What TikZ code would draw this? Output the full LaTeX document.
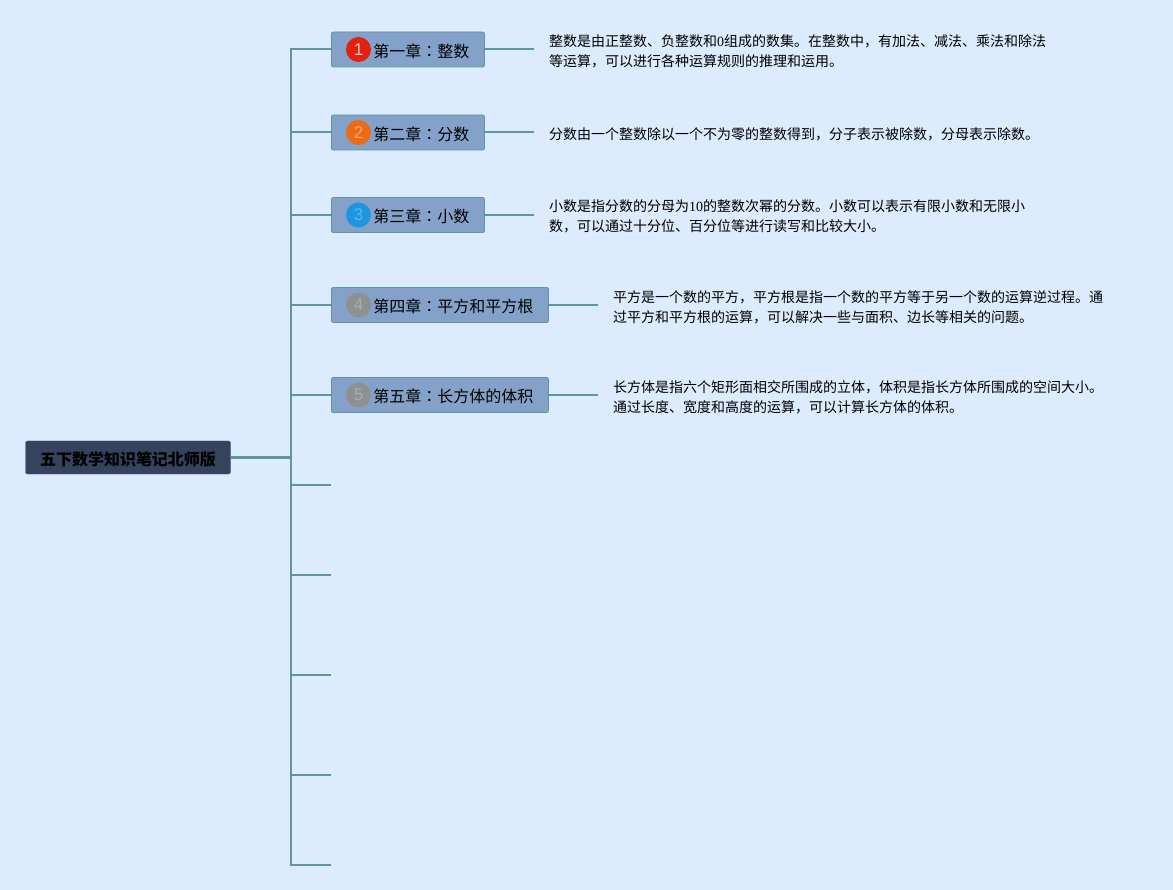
\documentclass[tikz,border=0pt]{standalone}
\usepackage{fontspec}
\setmainfont{Liberation Serif}
\setsansfont{Liberation Sans}
\newfontfamily\cjk{Noto Sans CJK SC}
\newfontfamily\cjktc{Noto Sans CJK TC}
\newcommand{\midcolon}{{\cjktc ：}}
\usetikzlibrary{positioning}
\definecolor{paper}{HTML}{DCEBFD}
\definecolor{stem}{HTML}{5F9892}
\definecolor{chapfill}{HTML}{84A2C9}
\definecolor{rootfill}{HTML}{36435F}
\definecolor{badgered}{HTML}{E3210E}
\definecolor{badgeorange}{HTML}{EC6B14}
\definecolor{badgeblue}{HTML}{1E96DD}
\definecolor{badgegray}{HTML}{8F9092}
\tikzset{root/.style={draw=rootfill!85!white,fill=rootfill,rounded corners=2pt,minimum width=205pt,minimum height=33pt,inner sep=0pt,text height=16pt,text depth=0pt,font=\cjk\fontsize{16}{16}\selectfont\bfseries},
         chapter/.style={draw=stem,fill=chapfill,line width=0.9pt,rounded corners=2pt,minimum height=35pt,inner sep=0pt,text height=16pt,text depth=0pt,anchor=west,font=\cjk\fontsize{16}{16}\selectfont},
         badge/.style={circle,minimum size=25pt,inner sep=0pt,font=\sffamily\fontsize{17}{17}\selectfont},
         note/.style={anchor=west,align=left,inner sep=0pt,font=\cjk\fontsize{14}{20}\selectfont},
         limb/.style={draw=stem,line width=2pt},
        }

\begin{document}
\begin{tikzpicture}[x=1pt,y=1pt]
        \fill[paper](0,0)rectangle(1173,-890);
        \useasboundingbox(0,0)rectangle(1173,-890);

        \node[root](book)at(128,-457.5){五下数学知识笔记北师版};

        \node[chapter,minimum width=153pt](ch1)at(331,-49.5){\hspace*{27pt}第一章\midcolon 整数};
        \node[chapter,minimum width=153pt](ch2)at(331,-132.5){\hspace*{27pt}第二章\midcolon 分数};
        \node[chapter,minimum width=153pt](ch3)at(331,-215){\hspace*{27pt}第三章\midcolon 小数};
        \node[chapter,minimum width=217pt](ch4)at(331,-305){\hspace*{27pt}第四章\midcolon 平方和平方根};
        \node[chapter,minimum width=217pt](ch5)at(331,-395){\hspace*{27pt}第五章\midcolon 长方体的体积};

        \node[badge,fill=badgered,text=white!75!badgered](b1)at(358.5,-49.5){1};
        \node[badge,fill=badgeorange,text=white!40!badgeorange](b2)at(358.5,-132.5){2};
        \node[badge,fill=badgeblue,text=white!30!badgeblue](b3)at(358.5,-215){3};
        \node[badge,fill=badgegray,text=white!25!badgegray](b4)at(358.5,-305){4};
        \node[badge,fill=badgegray,text=white!25!badgegray](b5)at(358.5,-395){5};

        \node[note](n1)at(549,-51){整数是由正整数、负整数和{\rmfamily 0}组成的数集。在整数中，有加法、减法、乘法和除法\\等运算，可以进行各种运算规则的推理和运用。};
        \node[note](n2)at(549,-134.5){分数由一个整数除以一个不为零的整数得到，分子表示被除数，分母表示除数。};
        \node[note](n3)at(549,-216.5){小数是指分数的分母为{\rmfamily 10}的整数次幂的分数。小数可以表示有限小数和无限小\\数，可以通过十分位、百分位等进行读写和比较大小。};
        \node[note](n4)at(613,-307){平方是一个数的平方，平方根是指一个数的平方等于另一个数的运算逆过程。通\\过平方和平方根的运算，可以解决一些与面积、边长等相关的问题。};
        \node[note](n5)at(613,-397){长方体是指六个矩形面相交所围成的立体，体积是指长方体所围成的空间大小。\\通过长度、宽度和高度的运算，可以计算长方体的体积。};

        \coordinate(j0)at(291,-457.5);
        \coordinate(j1)at(291,-49.5);
        \coordinate(j2)at(291,-132.5);
        \coordinate(j3)at(291,-215);
        \coordinate(j4)at(291,-305);
        \coordinate(j5)at(291,-395);
        \coordinate(j6)at(291,-485);
        \coordinate(j7)at(291,-575);
        \coordinate(j8)at(291,-675);
        \coordinate(j9)at(291,-775);
        \coordinate(j10)at(291,-865);
        \coordinate(e6)at(331,-485);
        \coordinate(e7)at(331,-575);
        \coordinate(e8)at(331,-675);
        \coordinate(e9)at(331,-775);
        \coordinate(e10)at(331,-865);
        \coordinate(t1)at(534,-49.5);
        \coordinate(t2)at(534,-132.5);
        \coordinate(t3)at(534,-215);
        \coordinate(t4)at(598,-305);
        \coordinate(t5)at(598,-395);

        \draw[limb,line width=2.5pt](book.east)--(j0);
        \draw[limb,line cap=rect](j1)--(j10);
        \draw[limb](j1)--(ch1.west);
        \draw[limb](j2)--(ch2.west);
        \draw[limb](j3)--(ch3.west);
        \draw[limb](j4)--(ch4.west);
        \draw[limb](j5)--(ch5.west);
        \draw[limb](j6)--(e6);
        \draw[limb](j7)--(e7);
        \draw[limb](j8)--(e8);
        \draw[limb](j9)--(e9);
        \draw[limb](j10)--(e10);
        \draw[limb](ch1.east)--(t1);
        \draw[limb](ch2.east)--(t2);
        \draw[limb](ch3.east)--(t3);
        \draw[limb](ch4.east)--(t4);
        \draw[limb](ch5.east)--(t5);
    \end{tikzpicture}
\end{document}
